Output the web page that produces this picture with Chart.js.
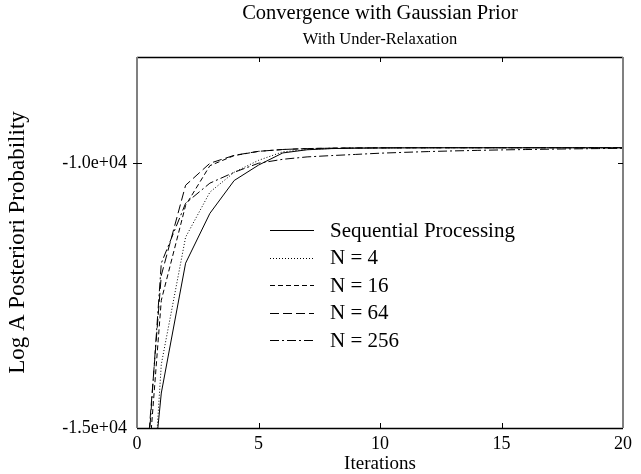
<!DOCTYPE html>
<html>
<head>
<meta charset="utf-8">
<script src="https://cdn.jsdelivr.net/npm/chart.js@4/dist/chart.umd.min.js"></script>
<style>
  html, body { margin: 0; padding: 0; background: #fff; }
  #wrap { width: 641px; height: 474px; }
</style>
</head>
<body>
<div id="wrap"><canvas id="c" width="641" height="474"></canvas></div>
<script>
// ---- data ----
const chartTitle = "Convergence with Gaussian Prior";
const chartSubtitle = "With Under-Relaxation";
const xAxisTitle = "Iterations";
const yAxisTitle = "Log A Posteriori Probability";

const iterations = [0,1,2,3,4,5,6,7,8,9,10,11,12,13,14,15,16,17,18,19,20];
const seriesNames = ["Sequential Processing", "N = 4", "N = 16", "N = 64", "N = 256"];

const seqValues  = [-19000,-14340,-11890,-10950,-10330,-10040,-9810,-9750,-9728,-9720,-9716,-9714,-9713,-9712,-9712,-9712,-9712,-9712,-9712,-9712,-9712];
const n4Values   = [-21000,-13800,-11400,-10550,-10175,-9950,-9790,-9745,-9726,-9719,-9716,-9714,-9713,-9712,-9712,-9712,-9712,-9712,-9712,-9712,-9712];
const n16Values  = [-18500,-12590,-10800,-10050,-9860,-9780,-9745,-9728,-9720,-9716,-9714,-9713,-9712,-9712,-9712,-9712,-9712,-9712,-9712,-9712,-9712];
const n64Values  = [-18000,-12120,-10420,-10005,-9855,-9780,-9745,-9728,-9720,-9716,-9714,-9713,-9712,-9712,-9712,-9712,-9712,-9712,-9712,-9712,-9712];
const n256Values = [-18500,-11890,-10760,-10380,-10175,-10005,-9930,-9885,-9860,-9838,-9815,-9799,-9784,-9772,-9762,-9753,-9746,-9739,-9733,-9728,-9722];

const xTickValues = [0, 5, 10, 15, 20];
const xTickLabels = ["0", "5", "10", "15", "20"];
const yTickValues = [-15000, -10000];
const yTickLabels = ["-1.5e+04", "-1.0e+04"];

// ---- styling ----
const FONT = "'Liberation Serif', 'Times New Roman', serif";
const dashes = [[], [1, 2], [5, 3], [9, 4], [9, 3, 2, 3]];
const allValues = [seqValues, n4Values, n16Values, n64Values, n256Values];

const datasets = allValues.map((vals, i) => ({
  label: seriesNames[i],
  data: iterations.map((x, k) => ({ x: x, y: vals[k] })),
  borderColor: '#000',
  borderWidth: 1,
  borderDash: dashes[i],
  pointRadius: 0,
  tension: 0,
  fill: false
}));

const decorPlugin = {
  id: 'decor',
  afterDraw(chart) {
    const ctx = chart.ctx;
    const a = chart.chartArea;
    const xs = chart.scales.x, ys = chart.scales.y;
    const cx = (a.left + a.right) / 2;
    ctx.save();
    // titles
    ctx.fillStyle = '#000';
    ctx.textAlign = 'center';
    ctx.textBaseline = 'middle';
    ctx.font = '20.5px ' + FONT;
    ctx.fillText(chartTitle, cx, 14);
    ctx.font = '16.5px ' + FONT;
    ctx.fillText(chartSubtitle, cx, 40);

    // frame
    ctx.setLineDash([]);
    ctx.lineWidth = 1.5;
    ctx.strokeStyle = '#000';
    ctx.beginPath();
    ctx.moveTo(a.left, a.top + 0.5); ctx.lineTo(a.right, a.top + 0.5);
    ctx.moveTo(a.left, a.bottom + 0.5); ctx.lineTo(a.right, a.bottom + 0.5);
    ctx.stroke();
    ctx.strokeStyle = '#808080';
    ctx.lineWidth = 2;
    ctx.beginPath();
    ctx.moveTo(a.left, a.top); ctx.lineTo(a.left, a.bottom);
    ctx.moveTo(a.right, a.top); ctx.lineTo(a.right, a.bottom);
    ctx.stroke();

    // inner tick marks
    ctx.strokeStyle = '#000';
    ctx.lineWidth = 1;
    ctx.beginPath();
    xTickValues.forEach(v => {
      const px = Math.round(xs.getPixelForValue(v)) + 0.5;
      if (px <= a.left + 2 || px >= a.right - 2) return;
      ctx.moveTo(px, a.bottom); ctx.lineTo(px, a.bottom - 5);
      ctx.moveTo(px, a.top); ctx.lineTo(px, a.top + 5);
    });
    yTickValues.forEach(v => {
      const py = Math.round(ys.getPixelForValue(v)) + 0.5;
      if (py >= a.bottom - 2 || py <= a.top + 2) return;
      ctx.moveTo(a.left - 4, py); ctx.lineTo(a.left + 5, py);
      ctx.moveTo(a.right, py); ctx.lineTo(a.right - 5, py);
    });
    ctx.stroke();

    // legend inside plot
    ctx.textAlign = 'left';
    ctx.textBaseline = 'middle';
    ctx.font = '21px ' + FONT;
    chart.data.datasets.forEach((ds, i) => {
      const y = 230 + i * 27.5;
      ctx.strokeStyle = '#000';
      ctx.lineWidth = 1;
      ctx.setLineDash(ds.borderDash || []);
      ctx.beginPath();
      ctx.moveTo(270, Math.round(y) + 0.5);
      ctx.lineTo(314, Math.round(y) + 0.5);
      ctx.stroke();
      ctx.setLineDash([]);
      ctx.fillText(ds.label, 330, y + 1);
    });
    ctx.restore();
  }
};

new Chart(document.getElementById('c'), {
  type: 'line',
  data: { datasets: datasets },
  options: {
    responsive: false,
    animation: false,
    devicePixelRatio: 1,
    layout: { padding: { top: 57, right: 18, left: 0, bottom: 0 } },
    plugins: { legend: { display: false }, title: { display: false }, tooltip: { enabled: false } },
    scales: {
      x: {
        type: 'linear',
        min: 0, max: 20,
        afterBuildTicks: s => { s.ticks = xTickValues.map(v => ({ value: v })); },
        afterFit: s => { s.height = 46; },
        grid: { display: false, drawTicks: false },
        border: { display: false },
        ticks: {
          color: '#000', font: { family: FONT, size: 18 }, padding: 5, maxRotation: 0,
          callback: v => { const i = xTickValues.indexOf(v); return i >= 0 ? xTickLabels[i] : ''; }
        },
        title: { display: true, text: xAxisTitle, color: '#000', font: { family: FONT, size: 19, lineHeight: 1.0 }, padding: { top: 0, bottom: 0 } }
      },
      y: {
        type: 'linear',
        min: -15000, max: -8000,
        afterBuildTicks: s => { s.ticks = yTickValues.map(v => ({ value: v })); },
        afterFit: s => { s.width = 137; },
        grid: { display: false, drawTicks: false },
        border: { display: false },
        ticks: {
          color: '#000', font: { family: FONT, size: 18 }, padding: 10,
          callback: v => { const i = yTickValues.indexOf(v); return i >= 0 ? yTickLabels[i] : ''; }
        },
        title: { display: true, text: yAxisTitle, color: '#000', font: { family: FONT, size: 23, lineHeight: 1.2 }, padding: { top: 4, bottom: 0 } }
      }
    }
  },
  plugins: [decorPlugin]
});
</script>
</body>
</html>
